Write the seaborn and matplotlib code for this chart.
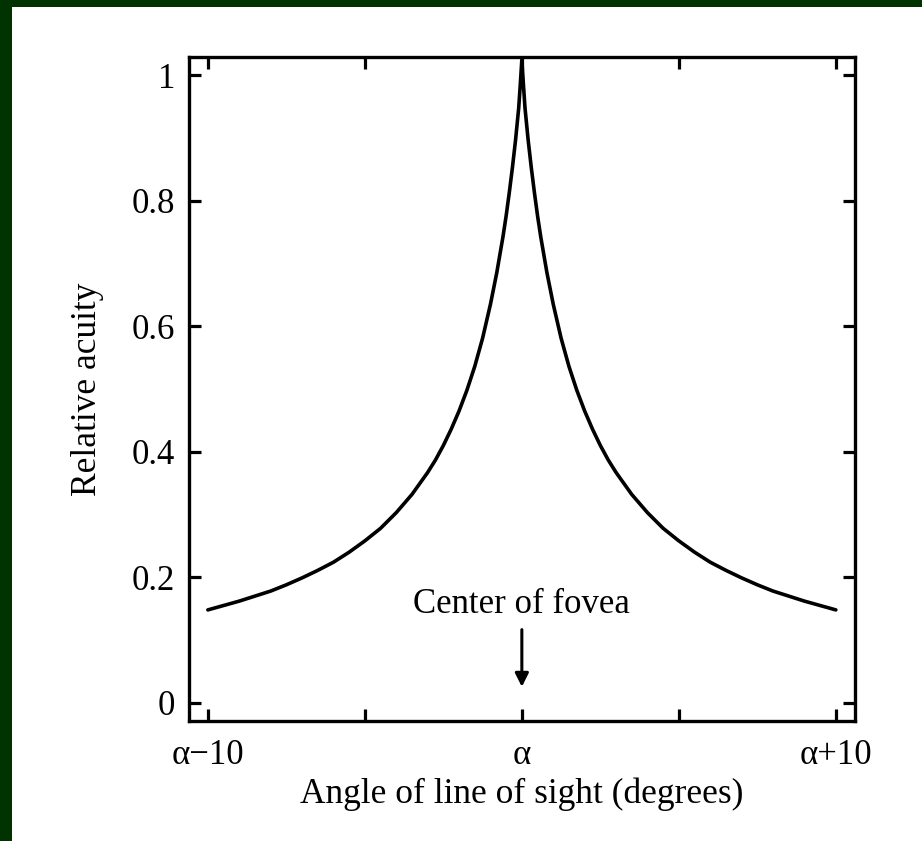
import numpy as np
import pandas as pd
import seaborn as sns
import matplotlib.pyplot as plt
from matplotlib.patches import Rectangle

# values (offset from alpha in degrees)
right_angle = [0.05, 0.1, 0.2, 0.3, 0.4, 0.5, 0.6, 0.8, 1.0, 1.25, 1.5, 1.75, 2, 2.25, 2.5,
               2.75, 3, 3.5, 4, 4.5, 5, 5.5, 6, 6.5, 7, 7.5, 8, 8.5, 9, 9.5, 10]
right_acuity = [0.985, 0.948, 0.897, 0.853, 0.813, 0.776, 0.743, 0.685, 0.635, 0.581, 0.536,
                0.498, 0.465, 0.436, 0.410, 0.387, 0.367, 0.332, 0.303, 0.278, 0.258, 0.240,
                0.224, 0.211, 0.199, 0.188, 0.178, 0.170, 0.162, 0.155, 0.148]
peak_angle = 0
peak_acuity = 1.025

# the curve is symmetric about alpha
angle = [-a for a in right_angle[::-1]] + [peak_angle] + right_angle
acuity = right_acuity[::-1] + [peak_acuity] + right_acuity

x_ticks = [-10, -5, 0, 5, 10]
x_labels = ["\u03b1\u221210", "", "\u03b1", "", "\u03b1+10"]
y_ticks = [0, 0.2, 0.4, 0.6, 0.8, 1]
y_labels = ["0", "0.2", "0.4", "0.6", "0.8", "1"]

df = pd.DataFrame({"angle": angle, "acuity": acuity})

sns.set_style("ticks")
plt.rcParams["font.family"] = ["Liberation Serif", "DejaVu Serif"]
plt.rcParams["font.size"] = 25
plt.rcParams["text.color"] = "black"
plt.rcParams["axes.labelcolor"] = "black"

fig = plt.figure(figsize=(9.22, 8.41), dpi=100)
fig.patch.set_facecolor("white")

# dark green frame on top and left edge
fig.patches.append(Rectangle((0, 1 - 7 / 841), 1, 7 / 841, transform=fig.transFigure,
                             facecolor="#003300", edgecolor="none"))
fig.patches.append(Rectangle((0, 0), 12 / 922, 1, transform=fig.transFigure,
                             facecolor="#003300", edgecolor="none"))

ax = fig.add_axes([0.205, 0.1427, 0.722, 0.7895])

sns.lineplot(data=df, x="angle", y="acuity", ax=ax, color="black", linewidth=2.6,
             estimator=None, sort=False)
ax.lines[0].set_solid_joinstyle("miter")

ax.set_xlim(-10.6, 10.6)
ax.set_ylim(-0.029, 1.029)
ax.set_xticks(x_ticks)
ax.set_xticklabels(x_labels)
ax.set_yticks(y_ticks)
ax.set_yticklabels(y_labels)

ax.tick_params(direction="in", length=8.5, width=2.3, top=True, right=True,
               labelsize=25, colors="black")
ax.tick_params(axis="x", pad=13)
ax.tick_params(axis="y", pad=10)
for sp in ax.spines.values():
    sp.set_linewidth(2.4)
    sp.set_color("black")

ax.set_xlabel("Angle of line of sight (degrees)", fontsize=25.5, labelpad=4)
ax.set_ylabel("Relative acuity", fontsize=25.5, labelpad=20)

ax.text(0, 0.157, "Center of fovea", ha="center", va="center", fontsize=25, color="black")
ax.annotate("", xy=(0, 0.021), xytext=(0, 0.121),
            arrowprops=dict(arrowstyle="-|>", color="black", lw=2.2, mutation_scale=20))

fig.savefig("out.png", dpi=100)
